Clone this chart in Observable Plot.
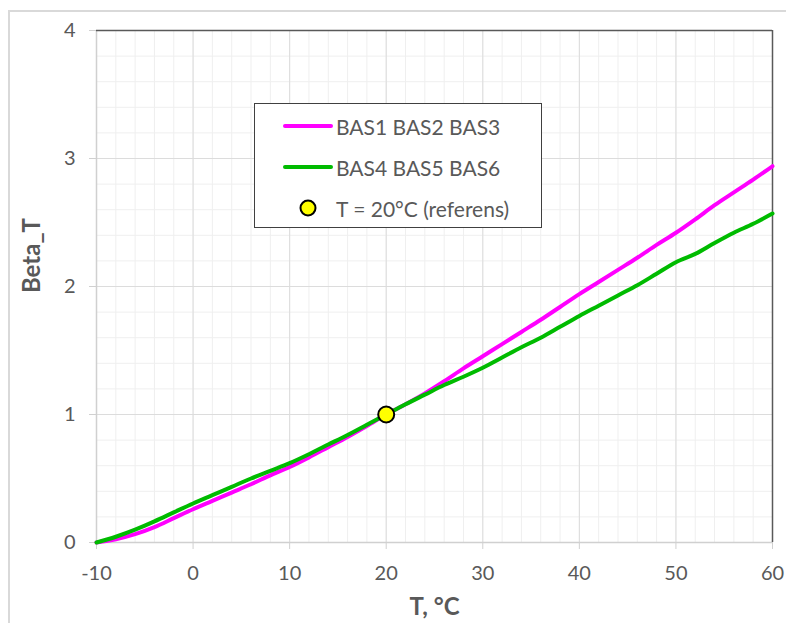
<!DOCTYPE html>
<html>
<head>
<meta charset="utf-8">
<script src="https://cdn.jsdelivr.net/npm/d3@7"></script>
<script src="https://cdn.jsdelivr.net/npm/@observablehq/plot@0.6"></script>
<style>
  html, body { margin: 0; padding: 0; background: #fff; }
  #wrap { position: relative; width: 786px; height: 623px; overflow: hidden; font-family: Lato, "Open Sans", sans-serif; }
  #outer { position: absolute; left: 8px; top: 10px; width: 800px; height: 640px; border-left: 2px solid #d9d9d9; border-top: 2px solid #d9d9d9; box-sizing: border-box; }
  #chart { position: absolute; left: 0; top: 0; }
  #legend { position: absolute; left: 254px; top: 103px; width: 288px; height: 125px; border: 1.5px solid #404040; background: #fff; box-sizing: border-box; }
  .item { position: absolute; left: 0; height: 24px; display: flex; align-items: center; font-size: 21px; color: #595959; white-space: nowrap; }
  .item svg { margin-right: 3px; }
</style>
</head>
<body>
<div id="wrap">
  <div id="outer"></div>
  <div id="chart"></div>
  <div id="legend"></div>
</div>
<script>
// Data
const temps = [-10,-8,-6,-4,-2,0,2,4,6,8,10,12,14,16,18,20,22,24,26,28,30,32,34,36,38,40,42,44,46,48,50,52,54,56,58,60];
const betaBAS123 = [0,0.025,0.065,0.12,0.19,0.26,0.325,0.39,0.455,0.525,0.59,0.665,0.745,0.825,0.91,1.0,1.08,1.165,1.26,1.36,1.455,1.55,1.645,1.74,1.84,1.94,2.035,2.13,2.225,2.325,2.42,2.525,2.635,2.735,2.835,2.94];
const betaBAS456 = [0,0.045,0.1,0.165,0.235,0.305,0.37,0.435,0.5,0.56,0.62,0.69,0.765,0.84,0.92,1.0,1.08,1.155,1.23,1.295,1.365,1.445,1.525,1.6,1.685,1.77,1.85,1.93,2.01,2.1,2.19,2.255,2.34,2.42,2.49,2.57];
const refPoint = [{T: 20, beta: 1}];
const seriesNames = ["BAS1 BAS2 BAS3", "BAS4 BAS5 BAS6", "T = 20°C (referens)"];
const xTicks = [-10, 0, 10, 20, 30, 40, 50, 60];
const yTicks = [0, 1, 2, 3, 4];
const xMinor = d3.range(-10, 60.001, 2);
const yMinor = d3.range(0, 4.001, 0.2);
const xLabel = "T, °C";
const yLabel = "Beta_T";

const pink = temps.map((t, i) => ({T: t, beta: betaBAS123[i]}));
const green = temps.map((t, i) => ({T: t, beta: betaBAS456[i]}));

const chart = Plot.plot({
  width: 786,
  height: 623,
  marginLeft: 96,
  marginRight: 14,
  marginTop: 30,
  marginBottom: 81,
  x: {domain: [-10, 60]},
  y: {domain: [0, 4]},
  style: {fontFamily: "Lato, 'Open Sans', sans-serif", background: "transparent", overflow: "visible"},
  marks: [
    Plot.ruleX(xMinor, {stroke: "#efefef", strokeWidth: 1}),
    Plot.ruleY(yMinor, {stroke: "#efefef", strokeWidth: 1}),
    Plot.ruleX(xTicks, {stroke: "#dcdcdc", strokeWidth: 1}),
    Plot.ruleY(yTicks, {stroke: "#dcdcdc", strokeWidth: 1}),
    Plot.ruleY([0], {stroke: "#d0d0d0", strokeWidth: 1.5}),
    Plot.ruleX([-10], {stroke: "#d0d0d0", strokeWidth: 1.5}),
    Plot.ruleY([4], {stroke: "#595959", strokeWidth: 1.5}),
    Plot.ruleX([60], {stroke: "#595959", strokeWidth: 1.5}),
    Plot.axisX({ticks: xTicks, tickSize: 7, tickPadding: 16, stroke: "#d0d0d0", fill: "#595959", fontSize: 20, label: null, tickFormat: d => d}),
    Plot.axisY({ticks: yTicks, tickSize: 7, tickPadding: 14, stroke: "#d0d0d0", fill: "#595959", fontSize: 20, label: null, tickFormat: d => d}),
    Plot.line(pink, {x: "T", y: "beta", stroke: "#ff00ff", strokeWidth: 4, curve: "monotone-x"}),
    Plot.line(green, {x: "T", y: "beta", stroke: "#00bb00", strokeWidth: 4, curve: "monotone-x"}),
    Plot.dot(refPoint, {x: "T", y: "beta", r: 8, fill: "#ffff00", stroke: "#000", strokeWidth: 2}),
    Plot.text([xLabel], {frameAnchor: "bottom", dy: 72, fontSize: 24, fontWeight: "bold", fill: "#595959"}),
    Plot.text([yLabel], {frameAnchor: "left", textAnchor: "middle", dx: -64, dy: -31, rotate: -90, fontSize: 24, fontWeight: "bold", fill: "#595959"})
  ]
});
document.getElementById("chart").appendChild(chart);

// Legend
const legend = document.getElementById("legend");
const swatches = [
  `<svg width="50" height="10"><line x1="2" y1="5" x2="48" y2="5" stroke="#ff00ff" stroke-width="4" stroke-linecap="round"/></svg>`,
  `<svg width="50" height="10"><line x1="2" y1="5" x2="48" y2="5" stroke="#00bb00" stroke-width="4" stroke-linecap="round"/></svg>`,
  `<svg width="50" height="20"><circle cx="25" cy="10" r="7.5" fill="#ffff00" stroke="#000" stroke-width="2"/></svg>`
];
const tops = [10, 51, 92];
seriesNames.forEach((name, i) => {
  const div = document.createElement("div");
  div.className = "item";
  div.style.top = tops[i] + "px";
  div.style.left = "28px";
  div.innerHTML = swatches[i] + `<span>${name}</span>`;
  legend.appendChild(div);
});
</script>
</body>
</html>
